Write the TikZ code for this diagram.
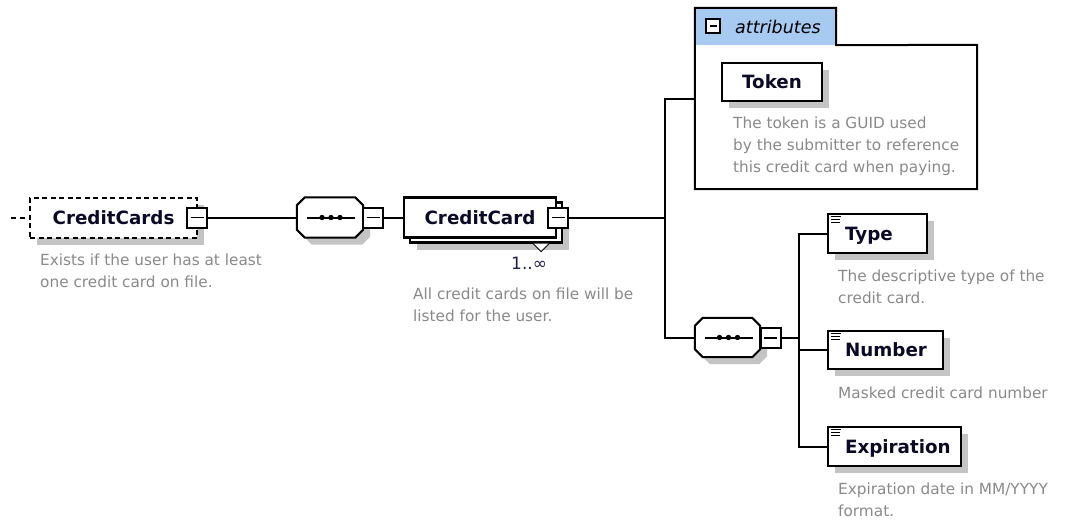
\documentclass[tikz,border=0pt]{standalone}
\usepackage{fontspec}
\setmainfont{DejaVu Sans}
\usetikzlibrary{calc}
\definecolor{shadowgray}{HTML}{C4C4C4}
\definecolor{desccol}{HTML}{8A8A8A}
\definecolor{tabblue}{HTML}{A6CAF0}
\definecolor{lblcol}{HTML}{0A0A28}
\definecolor{multcol}{HTML}{202050}
\newcommand\lblfont{\fontsize{18.3}{20}\selectfont\bfseries}
\newcommand\descfont{\fontsize{15.3}{21.5}\selectfont}
\newcommand\tokdescfont{\fontsize{15.3}{22.3}\selectfont}
\newcommand\attfont{\fontsize{17.5}{20}\selectfont\itshape}
\begin{document}
\begin{tikzpicture}[x=1pt,y=-1pt,
 conn/.style={line width=2pt, draw=black},
 boxshadow/.style={preaction={fill=shadowgray, draw=none, transform canvas={shift={(7pt,-7pt)}}}},
 elembox/.style={rectangle, draw=black, line width=2.2pt, fill=white, inner sep=0pt, font=\lblfont, text=lblcol, text height=13.3pt, text depth=0pt},
 leftlbl/.style={text width=#1, align=left},
 seqbox/.style={rectangle, draw=none, inner sep=0pt},
 octline/.style={line width=2pt, draw=black, fill=white},
 minusbox/.style={rectangle, draw=black, line width=2pt, fill=white, minimum size=#1, inner sep=0pt, path picture={\draw[line width=1.4pt] ([xshift=3.5pt]path picture bounding box.west) -- ([xshift=-3.5pt]path picture bounding box.east);}},
 minusbox/.default=20pt,
 desc/.style={inner sep=0pt, align=left, font=\descfont, text=desccol, anchor=base west},
 mult/.style={inner sep=0pt, font=\fontsize{17}{18}\selectfont, text=multcol, anchor=base west},
 attlbl/.style={inner sep=0pt, font=\attfont, text=black, anchor=base west},
 seqline/.style={line width=2pt},
 iconline/.style={line width=1.1pt},
]
\useasboundingbox[fill=white] (0,0) rectangle (1075,520);

% ---------- CreditCards ----------
\coordinate (lead) at (11,217.5);
\node[elembox, boxshadow, dash pattern=on 5pt off 3.5pt, line width=2pt, minimum width=167pt, minimum height=40pt] (cards) at (113.5,217.5) {CreditCards};
\node[minusbox] (cardsminus) at (197,217.5) {};
\draw[conn, dash pattern=on 5pt off 4pt] (lead) -- (cards.west);
\node[desc] (cardsdesc) at (40,287) {Exists if the user has at least\\one credit card on file.};

% ---------- sequences ----------
\node[seqbox, minimum width=66pt, minimum height=40pt] (seq1) at (330,217.5) {};
\node[seqbox, minimum width=65pt, minimum height=39pt] (seq2) at (727.5,337.5) {};
\foreach \s in {seq1,seq2}{
  \filldraw[octline, boxshadow] ([xshift=8pt]\s.north west) -- ([xshift=-8pt]\s.north east) -- ([yshift=-8pt]\s.north east) -- ([yshift=8pt]\s.south east) -- ([xshift=-8pt]\s.south east) -- ([xshift=8pt]\s.south west) -- ([yshift=8pt]\s.south west) -- ([yshift=-8pt]\s.north west) -- cycle;
  \draw[seqline] ([xshift=-23pt]\s.center) -- ([xshift=25pt]\s.center);
  \foreach \dx in {-8,1,10}
    \fill ([xshift=\dx pt]\s.center) circle (2.7pt);
}
\node[minusbox] (seq1minus) at (373,217.5) {};
\draw[conn] (cardsminus.east) -- (seq1.west);

% ---------- CreditCard ----------
\node[elembox, boxshadow, minimum width=152pt, minimum height=40pt] (cardback) at (486,222.5) {};
\node[elembox, minimum width=152pt, minimum height=40pt] (card) at (480,217.5) {CreditCard};
\node[minusbox] (cardminus) at (558,217.5) {};
\filldraw[line width=1pt, fill=white] ([xshift=-30pt]cardback.south east) -- ++(8,8) -- ++(8,-8);
\node[mult] (cardmult) at (511,269) {1..∞};
\node[desc] (carddesc) at (413,321) {All credit cards on file will be\\listed for the user.};
\draw[conn] (seq1minus.east) -- (card.west);

% ---------- attributes ----------
\node[rectangle, fill=white, draw=none, minimum width=282pt, minimum height=144pt, inner sep=0pt] (attrs) at (836,117) {};
\node[rectangle, fill=tabblue, draw=none, minimum width=141pt, minimum height=37pt, inner sep=0pt] (attrtab) at (765.5,26.5) {};
\draw[line width=2pt, line join=miter] (attrs.south west) -- (attrtab.north west) -- (attrtab.north east) -- (attrtab.south east) -- (attrs.north east) -- (attrs.south east) -- cycle;
\node[minusbox=14pt, line width=1.8pt] (attminus) at (713,26) {};
\node[attlbl] (attname) at (735,33.5) {attributes};
\node[elembox, boxshadow, minimum width=100pt, minimum height=38pt] (token) at (772,82) {Token};
\node[desc, font=\tokdescfont] (tokendesc) at (733,172.6) {The token is a GUID used\\by the submitter to reference\\this credit card when paying.};

% ---------- second sequence ----------
\node[minusbox] (seq2minus) at (770.5,338) {};
\coordinate (j1) at (665,217.5);
\coordinate (j2) at (799,338);

% ---------- children ----------
\node[elembox, boxshadow, leftlbl=99pt, minimum height=39pt] (type) at (877.5,233.5) {\hspace*{17pt}Type};
\node[elembox, boxshadow, leftlbl=115pt, minimum height=38pt] (number) at (885.5,350) {\hspace*{17pt}Number};
\node[elembox, boxshadow, leftlbl=133pt, minimum height=39pt] (expiration) at (894.5,446.5) {\hspace*{17pt}Expiration};
\node[desc] (typedesc) at (838,303) {The descriptive type of the\\credit card.};
\node[desc] (numberdesc) at (838,398.5) {Masked credit card number};
\node[desc] (expdesc) at (838,516) {Expiration date in MM/YYYY\\format.};

% ---------- simple-type icons ----------
\foreach \b in {type,number,expiration}{
  \draw[iconline] ([shift={(4,3.5)}]\b.north west) -- ++(10,0);
  \draw[iconline] ([shift={(4,6.5)}]\b.north west) -- ++(9,0);
  \draw[iconline] ([shift={(4,9.5)}]\b.north west) -- ++(9,0);
}

% ---------- connectors ----------
\draw[conn] (cardminus.east) -- (j1);
\draw[conn] ([yshift=-54pt]attrs.north west) -| (j1) |- (seq2.west);
\draw[conn] (seq2minus.east) -- (j2);
\draw[conn] (j2) |- (type.west);
\draw[conn] (j2) |- (number.west);
\draw[conn] (j2) |- (expiration.west);
\end{tikzpicture}
\end{document}
